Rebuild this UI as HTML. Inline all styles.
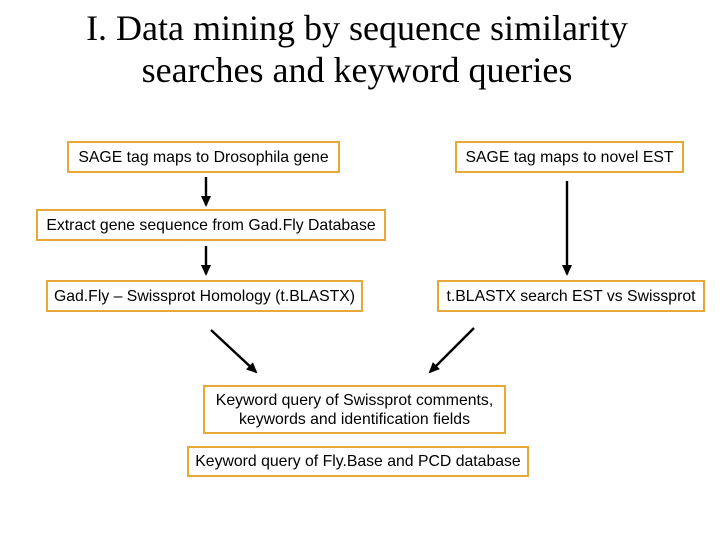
<!DOCTYPE html>
<html><head><style>
body{margin:0;width:720px;height:540px;background:#fff;position:relative;overflow:hidden;font-family:"Liberation Sans",sans-serif}
.t{position:absolute;left:0;width:714px;text-align:center;font-family:"Liberation Serif",serif;font-size:36px;color:#000;line-height:42px}
.b{position:absolute;border:2.5px solid #E8A838;box-sizing:border-box;font-size:15.8px;color:#000;display:flex;align-items:center;justify-content:center;text-align:center;line-height:19px;white-space:nowrap}
</style></head><body>
<div class="t" style="top:7px">I. Data mining by sequence similarity</div>
<div class="t" style="top:49px">searches and keyword queries</div>
<div class="b" style="left:67px;top:141px;width:273px;height:32px">SAGE tag maps to Drosophila gene</div>
<div class="b" style="left:455px;top:141px;width:229px;height:32px">SAGE tag maps to novel EST</div>
<div class="b" style="left:36px;top:209px;width:350px;height:32px">Extract gene sequence from Gad.Fly Database</div>
<div class="b" style="left:46px;top:280px;width:317px;height:32px">Gad.Fly – Swissprot Homology (t.BLASTX)</div>
<div class="b" style="left:437px;top:280px;width:268px;height:32px">t.BLASTX search EST vs Swissprot</div>
<div class="b" style="left:203px;top:385px;width:303px;height:49px">Keyword query of Swissprot comments,<br>keywords and identification fields</div>
<div class="b" style="left:187px;top:446px;width:342px;height:31px">Keyword query of Fly.Base and PCD database</div>
<svg width="720" height="540" style="position:absolute;left:0;top:0">
<defs><marker id="a" markerWidth="11" markerHeight="10" refX="9" refY="5" orient="auto" markerUnits="userSpaceOnUse"><path d="M0,0 L11,5 L0,10 z" fill="#000"/></marker></defs>
<g stroke="#000" stroke-width="2.4" fill="none" marker-end="url(#a)">
<line x1="206" y1="177" x2="206" y2="205"/>
<line x1="206" y1="246" x2="206" y2="274"/>
<line x1="567" y1="181" x2="567" y2="274"/>
<line x1="211" y1="330" x2="256" y2="372"/>
<line x1="474" y1="328" x2="430" y2="372"/>
</g></svg>
</body></html>
